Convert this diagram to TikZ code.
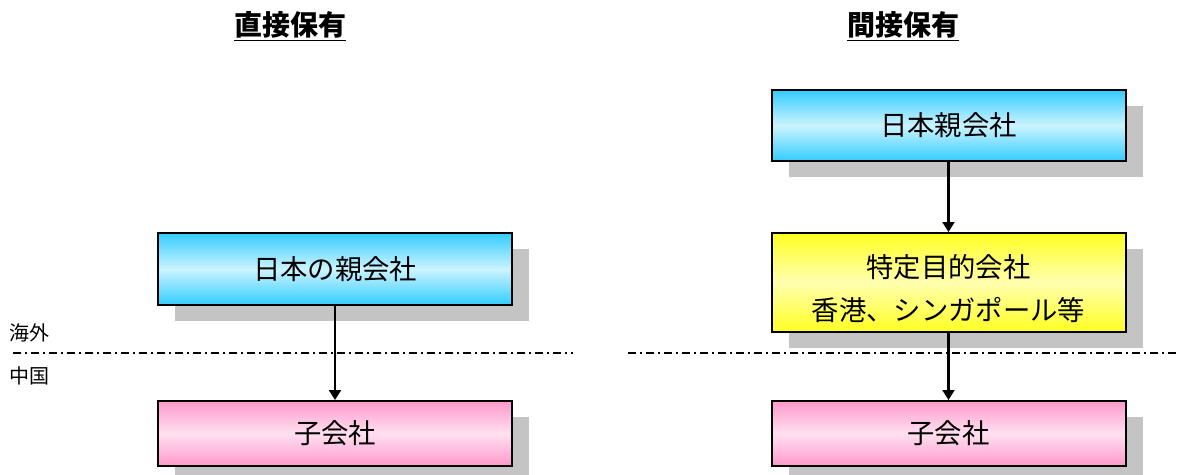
\documentclass[tikz,border=0pt]{standalone}
\usepackage{fontspec}
\setmainfont{Noto Sans CJK JP}
\usetikzlibrary{shadows,arrows.meta}
\definecolor{cyanE}{HTML}{33CCFF}
\definecolor{cyanM}{HTML}{CCF4FF}
\definecolor{pinkE}{HTML}{FF99CC}
\definecolor{pinkM}{HTML}{FFE0F0}
\definecolor{yelE}{HTML}{FFFF22}
\definecolor{yelM}{HTML}{FFFFB0}
\definecolor{shad}{HTML}{C4C4C4}
\begin{document}
\begin{tikzpicture}[x=0.75pt,y=-0.75pt,
  box/.style={draw=black, line width=1.5pt, minimum width=265.5pt, inner sep=0pt,
    font=\fontsize{20.5}{24}\selectfont,
    drop shadow={shadow xshift=12.75pt, shadow yshift=-12pt, fill=shad, draw=none, opacity=1}},
  bluebox/.style={box, top color=cyanE, bottom color=cyanE, middle color=cyanM},
  pinkbox/.style={box, top color=pinkE, bottom color=pinkE, middle color=pinkM},
  yelbox/.style={box, top color=yelE, bottom color=yelE, middle color=yelM},
  inner/.style={inner sep=0pt, font=\fontsize{20.5}{24}\selectfont},
  arr/.style={line width=1.6pt, -{Triangle[width=9pt,length=7.5pt]}},
  sepline/.style={line width=1.3pt, dash pattern=on 6pt off 3pt on 1.5pt off 3pt},
  title/.style={font=\fontsize{21}{25}\selectfont\bfseries},
  side/.style={font=\fontsize{15}{18}\selectfont}]
\useasboundingbox (0,0) rectangle (1179,475);

% titles
\node[title] (t1) at (290,26) {\underline{直接保有}};
\node[title] (t2) at (903,26) {\underline{間接保有}};

% side labels
\node[side] (abroad) at (30,333) {海外};
\node[side] (china) at (30,376) {中国};

% separator lines
\coordinate (s1a) at (13,353);
\coordinate (s1b) at (573,353);
\coordinate (s2a) at (628,353);
\coordinate (s2b) at (1179,353);
\draw[sepline] (s1a) -- (s1b);
\draw[sepline] (s2a) -- (s2b);

% left column
\node[bluebox, minimum height=54pt] (lb) at (335,269) {日本の親会社};
\node[pinkbox, minimum height=48.75pt] (lp) at (335,433.5) {子会社};

% right column
\node[bluebox, minimum height=53.25pt] (rb) at (948.5,125.5) {日本親会社};
\node[yelbox, minimum height=74.25pt] (ry) at (948.5,282.5) {};
\node[inner] (ry1) at (948.5,267) {特定目的会社};
\node[inner] (ry2) at (948.5,310) {香港、シンガポール等};
\node[pinkbox, minimum height=48.75pt] (rp) at (948.5,433.5) {子会社};

% connectors
\draw[arr] (lb.south) -- (lp.north);
\draw[arr] (rb.south) -- (ry.north);
\draw[arr] (ry.south) -- (rp.north);
\end{tikzpicture}
\end{document}
